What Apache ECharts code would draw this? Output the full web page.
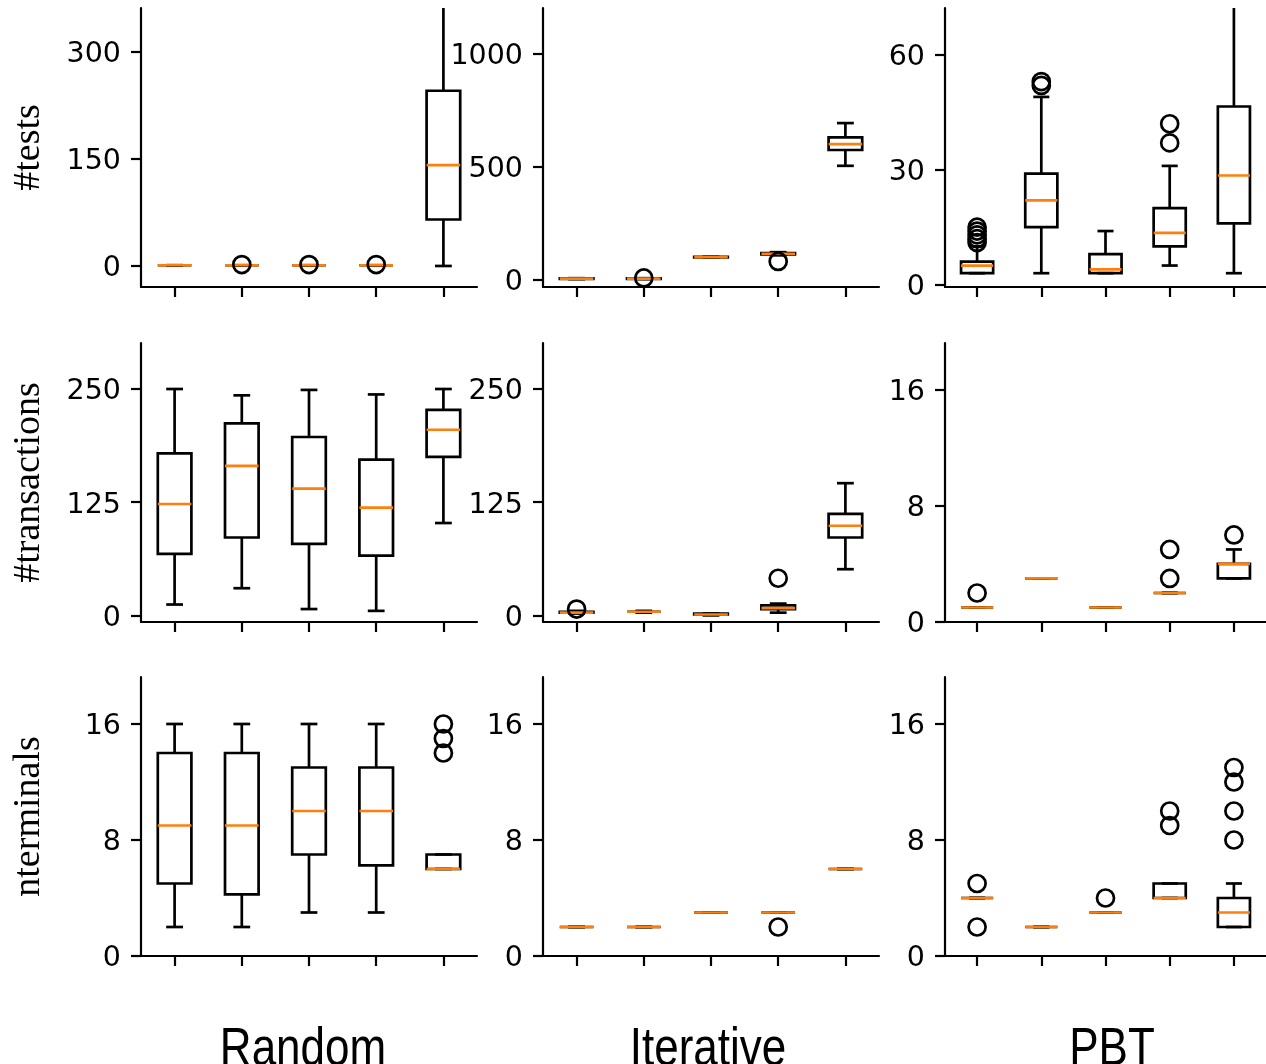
<!DOCTYPE html>
<html>
<head>
<meta charset="utf-8">
<script src="https://cdn.jsdelivr.net/npm/echarts@6/dist/echarts.min.js"></script>
<style>html,body{margin:0;padding:0;background:#fff}#c{width:1266px;height:1064px}</style>
</head>
<body>
<div id="c"></div>
<script>
// ---------- data: each box = [whiskerLow, Q1, median, Q3, whiskerHigh]; outliers = [position, value]
const positions = [1, 2, 3, 4, 5];
const columnTitles = ['Random', 'Iterative', 'PBT'];
const rowLabels = ['#tests', '#transactions', 'nterminals'];

const testsRandomBoxes = [[1,1,1,1,1],[1,1,1,1,1],[1,1,1,1,1],[1,1,1,1,1],[0,65,141,245,420]];
const testsRandomOutliers = [[2,2],[3,2],[4,2]];
const testsIterativeBoxes = [[3,4,5,6,7],[3,4,5,6,7],[98,99,100,101,102],[108,112,115,118,122],[504,574,600,630,693]];
const testsIterativeOutliers = [[2,8],[4,81]];
const testsPbtBoxes = [[3,3,5,6,10],[3,15,22,29,49],[3,3,4,8,14],[5,10,13.5,20,31],[3,16,28.5,46.5,90]];
const testsPbtOutliers = [[1,11],[1,12],[1,13],[1,14],[1,15],[2,52],[2,53],[4,37],[4,42]];

const transRandomBoxes = [[12,68,123,179,250],[30,86,165,212,243],[7,79,140,197,249],[5,66,119,172,244],[102,175,205,227,250]];
const transRandomOutliers = [];
const transIterativeBoxes = [[2,3,3,4,5],[3,4,4,4,5],[0,1,1,2,2],[3,7,8,11,13],[51,86,99,112,146]];
const transIterativeOutliers = [[1,7],[4,41]];
const transPbtBoxes = [[1,1,1,1,1],[3,3,3,3,3],[1,1,1,1,1],[2,2,2,2,2],[3,3,4,4,5]];
const transPbtOutliers = [[1,2],[4,3],[4,5],[5,6]];

const termRandomBoxes = [[2,5,9,14,16],[2,4.25,9,14,16],[3,7,10,13,16],[3,6.25,10,13,16],[6,6,6,7,7]];
const termRandomOutliers = [[5,14],[5,15],[5,16]];
const termIterativeBoxes = [[2,2,2,2,2],[2,2,2,2,2],[3,3,3,3,3],[3,3,3,3,3],[6,6,6,6,6]];
const termIterativeOutliers = [[4,2]];
const termPbtBoxes = [[4,4,4,4,4],[2,2,2,2,2],[3,3,3,3,3],[4,4,4,5,5],[2,2,3,4,5]];
const termPbtOutliers = [[1,2],[1,5],[3,4],[4,9],[4,10],[5,8],[5,10],[5,12],[5,13]];

// axis tick labels per panel
const testsRandomTicks = [0,150,300];
const testsIterativeTicks = [0,500,1000];
const testsPbtTicks = [0,30,60];
const transTicks = [0,125,250];
const smallTicks = [0,8,16];

const panels = [
  {boxes: testsRandomBoxes, out: testsRandomOutliers, min: -29.4, max: 360.7, ticks: testsRandomTicks},
  {boxes: testsIterativeBoxes, out: testsIterativeOutliers, min: -32, max: 1202, ticks: testsIterativeTicks},
  {boxes: testsPbtBoxes, out: testsPbtOutliers, min: -0.6, max: 72.2, ticks: testsPbtTicks},
  {boxes: transRandomBoxes, out: transRandomOutliers, min: -7.3, max: 300.8, ticks: transTicks},
  {boxes: transIterativeBoxes, out: transIterativeOutliers, min: -7.3, max: 300.8, ticks: transTicks},
  {boxes: transPbtBoxes, out: transPbtOutliers, min: 0, max: 19.23, ticks: smallTicks},
  {boxes: termRandomBoxes, out: termRandomOutliers, min: 0, max: 19.24, ticks: smallTicks},
  {boxes: termIterativeBoxes, out: termIterativeOutliers, min: 0, max: 19.24, ticks: smallTicks},
  {boxes: termPbtBoxes, out: termPbtOutliers, min: 0, max: 19.24, ticks: smallTicks}
];

// ---------- layout
const colLeft = [141, 543, 945];
const rowTop = [8, 343, 677];
const gridW = 336, gridH = 279;
const AXW = 2.2;   // spine / tick width
const BXW = 2.7;   // box line width

function renderBox(params, api) {
  const x = api.value(0);
  const wl = api.value(1), q1 = api.value(2), med = api.value(3), q3 = api.value(4), wh = api.value(5);
  const cs = params.coordSys;
  const top = cs.y, bottom = cs.y + cs.height;
  const cl = y => Math.max(top, Math.min(bottom, y));
  const P = (a, b) => api.coord([a, b]);
  const black = {stroke: '#000', lineWidth: BXW, fill: null};
  const children = [];
  const line = (p1, p2, style) => children.push({type: 'line', shape: {x1: p1[0], y1: cl(p1[1]), x2: p2[0], y2: cl(p2[1])}, style: style});
  line(P(x, wl), P(x, q1), black);
  line(P(x, q3), P(x, wh), black);
  [wl, wh].forEach(v => {
    const a = P(x - 0.125, v), b = P(x + 0.125, v);
    if (a[1] >= top - 0.5 && a[1] <= bottom + 0.5) line(a, b, black);
  });
  const bl = P(x - 0.25, q1), tr = P(x + 0.25, q3);
  children.push({type: 'rect', shape: {x: bl[0], y: tr[1], width: tr[0] - bl[0], height: bl[1] - tr[1]}, style: black});
  line(P(x - 0.25, med), P(x + 0.25, med), {stroke: '#ff7f0e', lineWidth: BXW});
  return {type: 'group', children: children};
}

const grid = [], xAxis = [], yAxis = [], series = [];
panels.forEach((pn, i) => {
  const r = Math.floor(i / 3), c = i % 3;
  grid.push({left: colLeft[c], top: rowTop[r], width: gridW, height: gridH, containLabel: false});
  xAxis.push({
    gridIndex: i, type: 'value', min: 0.5, max: 5.5,
    axisLine: {show: true, onZero: false, lineStyle: {color: '#000', width: AXW}},
    axisTick: {show: true, length: 10, customValues: positions, lineStyle: {color: '#000', width: AXW}},
    axisLabel: {show: false}, splitLine: {show: false}
  });
  yAxis.push({
    gridIndex: i, type: 'value', min: pn.min, max: pn.max,
    axisLine: {show: true, onZero: false, lineStyle: {color: '#000', width: AXW}},
    axisTick: {show: true, length: 10, customValues: pn.ticks, lineStyle: {color: '#000', width: AXW}},
    axisLabel: {
      show: true, customValues: pn.ticks, margin: 20,
      formatter: v => '{t|' + v + '}',
      rich: {t: {fontFamily: 'DejaVu Sans', fontSize: 28.5, color: '#000', padding: [6, 0, 0, 0]}}
    },
    splitLine: {show: false}
  });
  series.push({
    type: 'custom', xAxisIndex: i, yAxisIndex: i, silent: true, z: 2,
    renderItem: renderBox,
    encode: {x: 0, y: [1, 2, 3, 4, 5]},
    data: pn.boxes.map((b, k) => [positions[k]].concat(b))
  });
  series.push({
    type: 'scatter', xAxisIndex: i, yAxisIndex: i, silent: true, z: 3,
    symbol: 'circle', symbolSize: 17,
    itemStyle: {color: 'rgba(0,0,0,0)', borderColor: '#000', borderWidth: BXW, opacity: 1},
    data: pn.out
  });
});

const graphic = [];
const rowCenters = [147.5, 482.5, 816.5];
rowLabels.forEach((t, r) => graphic.push({
  type: 'text', x: 29, y: rowCenters[r], rotation: Math.PI / 2, silent: true,
  style: {text: t, font: '38px "Liberation Serif"', fill: '#000', align: 'center', verticalAlign: 'middle'}
}));
const titleCenters = [303, 708, 1112];
columnTitles.forEach((t, c) => graphic.push({
  type: 'text', x: titleCenters[c], y: 1050, scaleX: 0.83, silent: true,
  style: {text: t, font: '53px "Liberation Sans"', fill: '#000', align: 'center', verticalAlign: 'middle'}
}));

const chart = echarts.init(document.getElementById('c'), null, {renderer: 'canvas'});
chart.setOption({animation: false, backgroundColor: '#fff', grid, xAxis, yAxis, series, graphic});
</script>
</body>
</html>
